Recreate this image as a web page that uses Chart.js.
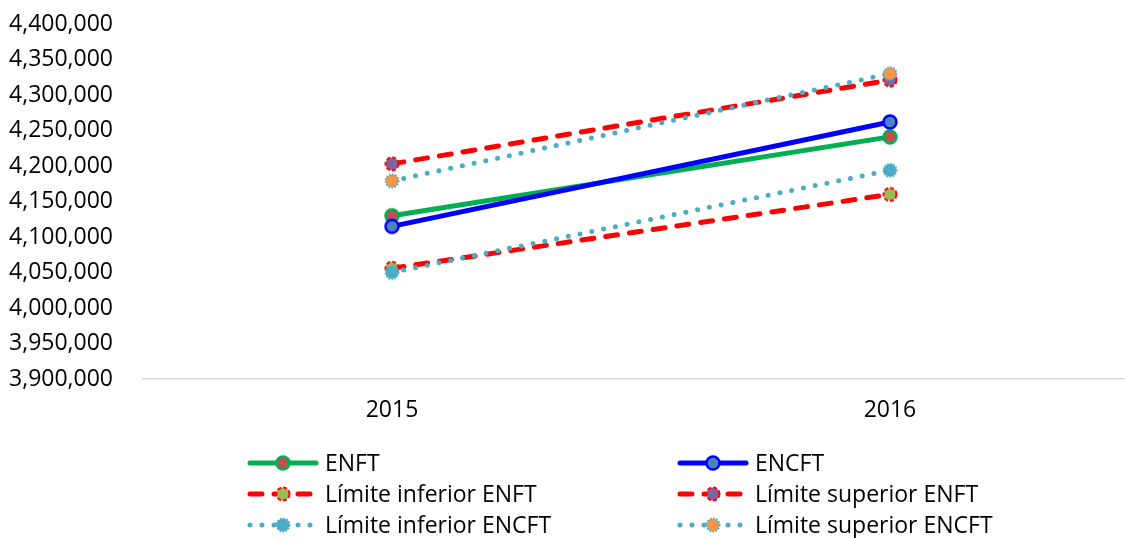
<!DOCTYPE html>
<html>
<head>
<meta charset="utf-8">
<script src="https://cdn.jsdelivr.net/npm/chart.js@4.4.1/dist/chart.umd.min.js"></script>
<style>
	html, body { margin: 0; padding: 0; background: #fff; }
	#wrap { width: 1125px; height: 538px; }
</style>
</head>
<body>
<div id="wrap"><canvas id="chart" width="1125" height="538"></canvas></div>
<script>
// values
const years = [2015, 2016];
const enft = [4130000, 4241000];
const encft = [4115000, 4262000];
const limInfEnft = [4056000, 4160000];
const limSupEnft = [4203000, 4321000];
const limInfEncft = [4050000, 4194000];
const limSupEncft = [4179000, 4330000];
const yTicks = [3900000, 3950000, 4000000, 4050000, 4100000, 4150000, 4200000, 4250000, 4300000, 4350000, 4400000];

const FONT = '"Open Sans", "Liberation Sans", sans-serif';

// marker images (fill + border, border may be dashed/dotted)
function makeMarker(fill, stroke, dash, lw) {
	const c = document.createElement('canvas');
	c.width = 20;
	c.height = 20;
	const g = c.getContext('2d');
	g.beginPath();
	g.arc(10, 10, 6.5, 0, Math.PI * 2);
	g.fillStyle = fill;
	g.fill();
	g.lineWidth = lw;
	g.strokeStyle = stroke;
	if (dash) g.setLineDash(dash);
	g.stroke();
	return c;
}

const series = [
	{ label: 'ENFT', data: enft, color: '#00B050', dash: [], cap: 'round', marker: makeMarker('#C0504D', '#00B050', null, 2.5) },
	{ label: 'ENCFT', data: encft, color: '#0000FF', dash: [], cap: 'round', marker: makeMarker('#4F81BD', '#0000FF', null, 2.5) },
	{ label: 'Límite inferior ENFT', data: limInfEnft, color: '#FF0000', dash: [12, 12], cap: 'round', marker: makeMarker('#9BBB59', '#FF0000', [4, 2], 2) },
	{ label: 'Límite superior ENFT', data: limSupEnft, color: '#FF0000', dash: [12, 12], cap: 'round', marker: makeMarker('#8064A2', '#FF0000', [4, 2], 2) },
	{ label: 'Límite inferior ENCFT', data: limInfEncft, color: '#4BACC6', dash: [0, 12], cap: 'round', marker: makeMarker('#4BACC6', '#4BACC6', [1.5, 1.5], 2) },
	{ label: 'Límite superior ENCFT', data: limSupEncft, color: '#4BACC6', dash: [0, 12], cap: 'round', marker: makeMarker('#F79646', '#4BACC6', [1.5, 1.5], 2) },
];

const datasets = series.map((s, i) => ({
	label: s.label,
	data: years.map((y, j) => ({ x: y, y: s.data[j] })),
	borderColor: s.color,
	backgroundColor: s.color,
	borderWidth: 5,
	borderDash: s.dash,
	borderCapStyle: s.cap,
	pointStyle: s.marker,
	pointRadius: 10,
	order: 6 - i,
}));

// legend drawn with line + marker like the original
const legendPlugin = {
	id: 'sampleLegend',
	afterDraw(chart) {
		const ctx = chart.ctx;
		const cols = [248, 678];
		const rows = [463, 494, 525];
		ctx.save();
		series.forEach((s, i) => {
			const x = cols[i % 2];
			const y = rows[Math.floor(i / 2)];
			ctx.beginPath();
			ctx.strokeStyle = s.color;
			ctx.lineWidth = 5;
			ctx.lineCap = s.cap;
			ctx.setLineDash(s.dash);
			ctx.moveTo(x + 2, y);
			ctx.lineTo(x + 68, y);
			ctx.stroke();
			ctx.setLineDash([]);
			ctx.drawImage(s.marker, x + 35 - 10, y - 10);
			ctx.fillStyle = '#000';
			ctx.font = '23px ' + FONT;
			ctx.textBaseline = 'middle';
			ctx.fillText(s.label, x + 77, y + 1);
		});
		ctx.restore();
	},
};

new Chart(document.getElementById('chart'), {
	type: 'line',
	data: { datasets: datasets },
	options: {
		responsive: false,
		animation: false,
		layout: { autoPadding: false, padding: { top: 24, right: 0, bottom: 115, left: 0 } },
		plugins: {
			legend: { display: false },
			tooltip: { enabled: false },
		},
		scales: {
			x: {
				type: 'linear',
				min: 2014.5,
				max: 2016.472,
				afterBuildTicks: (scale) => {
					scale.ticks = years.map((y) => ({ value: y }));
				},
				afterFit: (scale) => {
					scale.height = 44;
					scale.paddingLeft = 0;
					scale.paddingRight = 0;
				},
				grid: { display: false, drawTicks: false },
				border: { display: true, color: '#D9D9D9', width: 1.5 },
				ticks: {
					padding: 18,
					color: '#000',
					font: { family: FONT, size: 23 },
					callback: (v) => String(v),
				},
			},
			y: {
				min: 3900000,
				max: 4400000,
				afterBuildTicks: (scale) => {
					scale.ticks = yTicks.map((v) => ({ value: v }));
				},
				afterFit: (scale) => {
					scale.width = 143;
					scale.paddingTop = 0;
					scale.paddingBottom = 0;
				},
				grid: { display: false, drawTicks: false },
				border: { display: false },
				ticks: {
					padding: 30,
					color: '#000',
					font: { family: FONT, size: 23 },
					callback: (v) => v.toLocaleString('en-US'),
				},
			},
		},
	},
	plugins: [legendPlugin],
});
</script>
</body>
</html>
